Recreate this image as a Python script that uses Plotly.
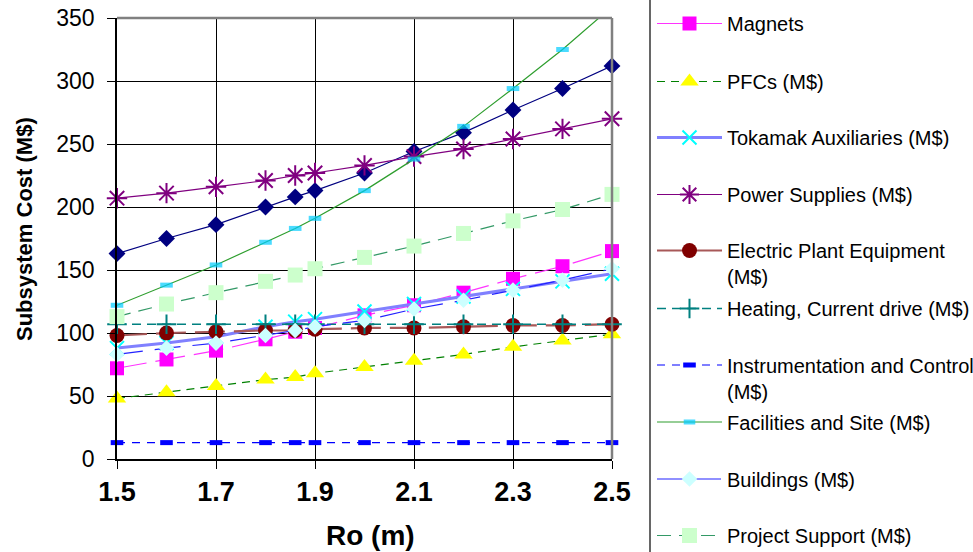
import plotly.graph_objects as go

# Major radius Ro (m)
ro = [1.5, 1.6, 1.7, 1.8, 1.86, 1.9, 2.0, 2.1, 2.2, 2.3, 2.4, 2.5]

# Subsystem costs (M$)
core = [163, 175, 186, 200, 208, 213, 227, 244, 259, 277, 294, 312]
magnets = [72, 79, 86, 95, 101, 104, 114, 122, 132, 143, 153, 165]
pfcs = [48, 53, 58, 63, 65, 68, 73, 78, 83, 89, 94, 99]
tokamak_aux = [88, 92, 97, 105, 109, 111, 117, 123, 129, 135, 141, 147]
power_supplies = [207, 211, 216, 221, 225, 227, 233, 240, 246, 254, 262, 270]
electric_plant = [98, 100, 101, 102, 102, 103, 104, 104, 105, 106, 106, 107]
heating_cd = [107, 107, 107, 107, 107, 107, 107, 107, 107, 107, 107, 107]
instrumentation = [13, 13, 13, 13, 13, 13, 13, 13, 13, 13, 13, 13]
facilities = [122, 138, 154, 172, 183, 191, 213, 238, 264, 294, 325, 359]
buildings = [83, 88, 92, 98, 102, 105, 110, 119, 126, 134, 142, 151]
project_support = [113, 123, 132, 141, 146, 151, 160, 169, 179, 189, 198, 210]

y_tick_vals = [0, 50, 100, 150, 200, 250, 300, 350]
x_tick_vals = [1.5, 1.7, 1.9, 2.1, 2.3, 2.5]

Y_MAX = 350
FONT = "Arial, 'Liberation Sans', sans-serif"

# Plot-area geometry in pixels
W, H = 973, 552
L, R, T, B = 117, 612, 18, 459


def px_x(p):
    return (p - L) / (R - L)


def px_y(p):
    return (B - p) / (B - T)


NO_EDGE = dict(width=0)

series = [
    dict(name="Magnets", y=magnets, line=dict(color="#FF33FF", width=1.2, dash="30px,9px"),
         marker=dict(symbol="square", size=14, color="#FF00FF", line=NO_EDGE), ly=23.5, va="middle"),
    dict(name="PFCs (M$)", y=pfcs, line=dict(color="#008000", width=1.2, dash="8px,6px"),
         marker=dict(symbol="triangle-up", size=16, color="#FFFF00", line=NO_EDGE), ly=81.5, va="middle"),
    dict(name="Tokamak Auxiliaries (M$)", y=tokamak_aux, line=dict(color="#8080FF", width=3),
         marker=dict(symbol="x-thin-open", size=14, color="#00FFFF", line=dict(width=2, color="#00FFFF")),
         ly=137.5, va="middle"),
    dict(name="Power Supplies (M$)", y=power_supplies, line=dict(color="#800080", width=1.2),
         marker=dict(symbol="asterisk-open", size=17, color="#800080", line=dict(width=2, color="#800080")),
         ly=194.5, va="middle"),
    dict(name="Electric Plant Equipment<br>(M$)", y=electric_plant,
         line=dict(color="#A85858", width=2.2, dash="30px,9px"),
         marker=dict(symbol="circle", size=15, color="#800000", line=NO_EDGE), ly=251, va="top"),
    dict(name="Heating, Current drive (M$)", y=heating_cd, line=dict(color="#008080", width=1.5, dash="9px,6px"),
         marker=dict(symbol="cross-thin-open", size=14, color="#008080", line=dict(width=2, color="#008080")),
         ly=308.5, va="middle"),
    dict(name="Instrumentation and Control<br>(M$)", y=instrumentation,
         line=dict(color="#0000FF", width=1.2, dash="8px,7px"),
         marker=dict(symbol="line-ew", size=9, color="#0000FF", line=dict(width=5, color="#0000FF")),
         ly=365.5, va="top"),
    dict(name="Facilities and Site (M$)", y=facilities, line=dict(color="#2E9E2E", width=1.2),
         marker=dict(symbol="line-ew", size=9, color="#00CCFF", line=dict(width=5, color="#00CCFF")),
         ly=422, va="middle"),
    dict(name="Buildings (M$)", y=buildings, line=dict(color="#2222FF", width=1.2, dash="26px,12px"),
         marker=dict(symbol="diamond", size=12, color="#CCFFFF", line=NO_EDGE), ly=479, va="middle"),
    dict(name="Project Support (M$)", y=project_support, line=dict(color="#339966", width=1.2, dash="14px,8px"),
         marker=dict(symbol="square", size=15, color="#CCFFCC", line=NO_EDGE), ly=535.5, va="middle"),
]

fig = go.Figure()

# Series without a visible key, drawn first so the others sit on top
fig.add_trace(go.Scatter(
    x=ro, y=core, mode="lines+markers", showlegend=False, cliponaxis=False,
    line=dict(color="#000080", width=1.2),
    marker=dict(symbol="diamond", size=13, color="#000080", line=NO_EDGE),
))

legend_layouts = {}
for i, s in enumerate(series):
    key = "legend" if i == 0 else f"legend{i + 1}"
    marker = dict(s["marker"])
    # hide markers that fall above the axis range (lines are clipped by the plot area)
    if any(v > Y_MAX for v in s["y"]):
        base = marker["size"]
        marker["size"] = [base if v <= Y_MAX else 0 for v in s["y"]]
    fig.add_trace(go.Scatter(
        x=ro, y=s["y"], name=s["name"], mode="lines+markers", cliponaxis=False,
        line=s["line"], marker=marker, legend=key,
    ))
    centre = s["ly"] + (12.5 if s["va"] == "top" else 0)
    legend_layouts[key] = dict(
        x=px_x(652), xanchor="left", y=px_y(centre), yanchor="middle",
        bgcolor="rgba(0,0,0,0)", borderwidth=0, itemwidth=65, valign="top",
        itemsizing="trace", font=dict(family=FONT, size=20, color="#000000"),
        tracegroupgap=0,
    )

axis_common = dict(showline=True, linecolor="#000000", linewidth=1.5, ticks="outside",
                   ticklen=8, tickcolor="#000000", tickwidth=1, zeroline=False,
                   showgrid=True, gridcolor="#000000", gridwidth=1)

fig.update_layout(
    width=W, height=H,
    margin=dict(l=L, r=W - R, t=T, b=H - B, autoexpand=False),
    paper_bgcolor="#FFFFFF", plot_bgcolor="#FFFFFF",
    font=dict(family=FONT, color="#000000"),
    xaxis=dict(range=[1.5, 2.5], tickvals=x_tick_vals, ticktext=[f"{v:.1f}" for v in x_tick_vals],
               tickfont=dict(family=FONT, size=27, weight="bold"), ticklabelstandoff=0,
               **axis_common),
    yaxis=dict(range=[0, Y_MAX], tickvals=y_tick_vals,
               tickfont=dict(family=FONT, size=23), ticklabelstandoff=8,
               **axis_common),
    shapes=[
        # frame on the top and right of the plot area
        dict(type="line", xref="paper", yref="paper", x0=0, x1=1, y0=1, y1=1,
             line=dict(color="#808080", width=2.5)),
        dict(type="line", xref="paper", yref="paper", x0=1, x1=1, y0=0, y1=1,
             line=dict(color="#808080", width=2.5)),
        # legend frame edge
        dict(type="line", xref="paper", yref="paper", x0=px_x(650), x1=px_x(650),
             y0=px_y(H + 5), y1=px_y(-5), line=dict(color="#000000", width=1.2)),
    ],
    annotations=[
        dict(text="<b>Subsystem Cost (M$)</b>", xref="paper", yref="paper",
             x=px_x(24), y=px_y(229), textangle=-90, showarrow=False,
             xanchor="center", yanchor="middle", font=dict(family=FONT, size=22)),
        dict(text="<b>Ro (m)</b>", xref="paper", yref="paper",
             x=px_x(370), y=px_y(535), showarrow=False,
             xanchor="center", yanchor="middle", font=dict(family=FONT, size=28)),
    ],
    **legend_layouts,
)

fig.write_html("out.html")
